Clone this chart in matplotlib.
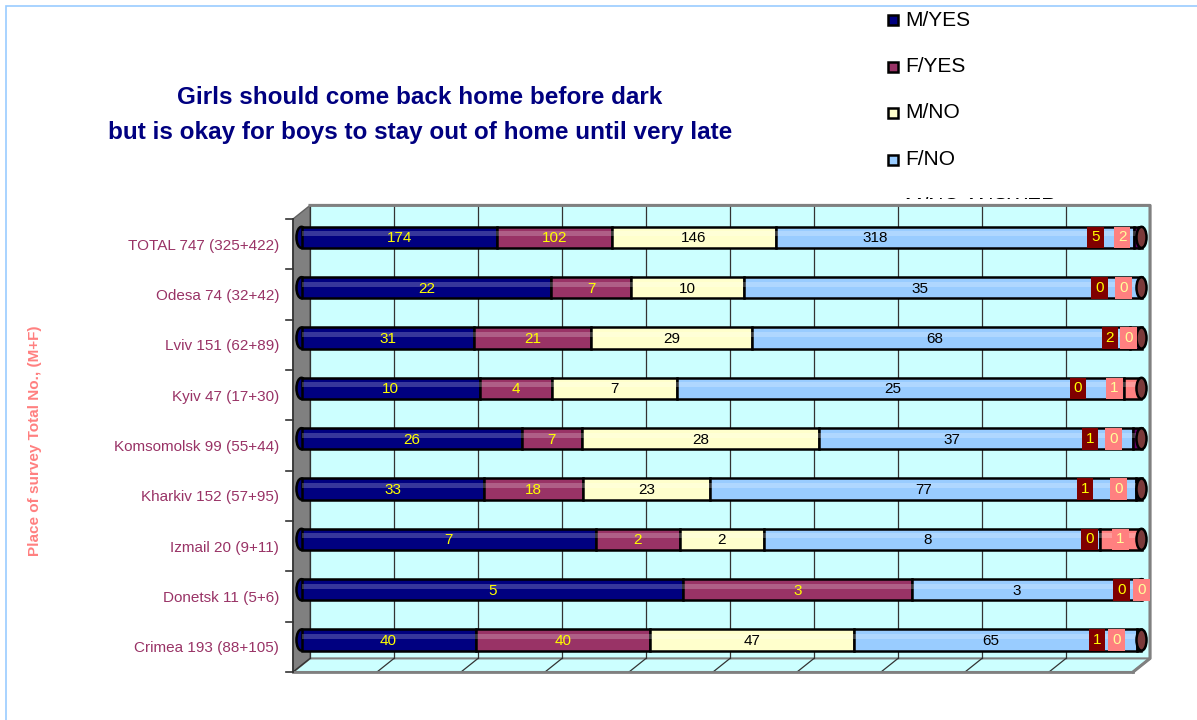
import matplotlib
matplotlib.use("Agg")
import matplotlib.pyplot as plt
from matplotlib.patches import Rectangle, Polygon, Ellipse
from matplotlib.transforms import Bbox

plt.rcParams['font.family'] = ['Liberation Sans', 'DejaVu Sans']

# data, bottom row first
places = ["Crimea 193 (88+105)", "Donetsk 11 (5+6)", "Izmail 20 (9+11)",
          "Kharkiv 152 (57+95)", "Komsomolsk 99 (55+44)", "Kyiv 47 (17+30)",
          "Lviv 151 (62+89)", "Odesa 74 (32+42)", "TOTAL 747 (325+422)"]
m_yes = [40, 5, 7, 33, 26, 10, 31, 22, 174]
f_yes = [40, 3, 2, 18, 7, 4, 21, 7, 102]
m_no = [47, 0, 2, 23, 28, 7, 29, 10, 146]
f_no = [65, 3, 8, 77, 37, 25, 68, 35, 318]
m_na = [1, 0, 0, 1, 1, 0, 2, 0, 5]
f_na = [0, 0, 1, 0, 0, 1, 0, 0, 2]
series_names = ["M/YES", "F/YES", "M/NO", "F/NO", "M/NO ANSWER", "F/NO ANSWER"]

colors = ["#000080", "#993366", "#FFFFCC", "#99CCFF", "#660066", "#FF8080"]
txt_colors = ["#FFFF00", "#FFFF00", "black", "black", "#FFFF00", "#FFFF99"]
# label shifts (pixels) as placed in the original
shift_fno = [-5, -10, -4, 0, -24, -7, -6, -23, -80]
shift_na_m = [-42, -20, -10, -54, -47, -46, -26, -42, -41]
shift_na_f = [-25, 0, 0, -23, -28, -18, -13, -18, -18]

W, H = 1197, 720
fig = plt.figure(figsize=(W / 100, H / 100), dpi=100)

# figure border (light blue)
fig.add_artist(Rectangle((6 / W, -0.1), 1.2, 1.1 - 6 / H, transform=fig.transFigure,
                         fill=False, edgecolor="#99CCFF", lw=1.2))

# legend, cut off at its bottom like the original
leg_clip = Bbox.from_extents(0, H - 199, W, H)
for i, name in enumerate(series_names):
    yy = 1 - (20 + i * 46.5) / H
    p = fig.add_artist(Rectangle((888 / W, yy - 5 / H), 10 / W, 10 / H, transform=fig.transFigure,
                                 facecolor=colors[i], edgecolor="black", lw=1.8, zorder=-2))
    p.set_clip_box(leg_clip)
    t = fig.text(905 / W, yy, name, fontsize=15, va="center", ha="left", zorder=-2)
    t.set_clip_box(leg_clip)
    t.set_clip_on(True)

# title
fig.text(420 / W, 1 - 97 / H, "Girls should come back home before dark",
         fontsize=17.5, fontweight="bold", color="#000080", ha="center", va="center")
fig.text(420 / W, 1 - 132 / H, "but is okay for boys to stay out of home until very late",
         fontsize=17.5, fontweight="bold", color="#000080", ha="center", va="center")

fig.text(35 / W, 1 - 441 / H, "Place of survey Total No., (M+F)", rotation=90,
         fontsize=11, fontweight="bold", color="#FF8080", ha="center", va="center")

ax = fig.add_axes([293 / W, 1 - 672 / H, 840 / W, 453 / H])
ax.set_xlim(0, 1)
ax.set_ylim(-0.5, len(places) - 0.5)
ax.patch.set_visible(False)
for s in ax.spines.values():
    s.set_visible(False)
ax.set_xticks([])
ax.set_yticks(range(len(places)))
ax.set_yticklabels(places, fontsize=11, color="#993366")
ax.tick_params(axis="y", length=0, pad=10)

n = len(places)
dx, dy = 17 / 840, 0.27
top = n - 0.5
bot = -0.5

# walls and floor
ax.add_patch(Polygon([(dx, bot + dy), (1 + dx, bot + dy), (1 + dx, top + dy), (dx, top + dy)],
                     closed=True, facecolor="#CCFFFF", edgecolor="none", zorder=0, clip_on=False))
ax.add_patch(Polygon([(0, bot), (1, bot), (1 + dx, bot + dy), (dx, bot + dy)],
                     closed=True, facecolor="#CCFFFF", edgecolor="#808080", lw=1.5, zorder=0,
                     clip_on=False))
ax.add_patch(Polygon([(0, bot), (dx, bot + dy), (dx, top + dy), (0, top)],
                     closed=True, facecolor="#808080", edgecolor="#606060", lw=1, zorder=0,
                     clip_on=False))
for k in range(11):
    gx = k / 10
    ax.plot([gx + dx, gx + dx], [bot + dy, top + dy], color="#333333", lw=0.9, zorder=0.5,
            clip_on=False)
    ax.plot([gx, gx + dx], [bot, bot + dy], color="#333333", lw=0.9, zorder=0.5, clip_on=False)
ax.plot([dx, 1 + dx, 1 + dx, 1], [top + dy, top + dy, bot + dy, bot], color="#808080", lw=2.2,
        zorder=0.6, clip_on=False)
ax.plot([0, 1], [bot, bot], color="#808080", lw=2, zorder=0.6, clip_on=False)
ax.plot([0, 0], [bot, top], color="#333333", lw=1.2, zorder=0.7, clip_on=False)
for b in range(n + 1):
    ax.plot([-7 / 840, 0], [b - 0.5, b - 0.5], color="#333333", lw=1.2, clip_on=False)

# bars (cylinders at mid depth)
series = [m_yes, f_yes, m_no, f_no, m_na, f_na]
bh = 0.42
for r in range(n):
    total = sum(s[r] for s in series)
    yc = r + dy / 2
    x0 = dx / 2
    ax.add_patch(Ellipse((x0, yc), 0.012, bh, facecolor=colors[0], edgecolor="black",
                         lw=1.8, zorder=2, clip_on=False))
    left = x0
    for i, s in enumerate(series):
        w = s[r] / total
        if w > 0:
            ax.barh(yc, w, height=bh, left=left, color=colors[i], edgecolor="black",
                    lw=1.8, zorder=3, clip_on=False)
            ax.barh(yc + 0.07, w, height=0.1, left=left, color="white", alpha=0.22,
                    lw=0, zorder=3.5, clip_on=False)
        cx = left + w / 2
        if i < 4:
            if s[r] > 0:
                sh = shift_fno[r] if i == 3 else 0
                ax.annotate(str(s[r]), xy=(cx, yc - 0.02), xytext=(sh * 0.72, 0),
                            textcoords="offset points", fontsize=11, color=txt_colors[i],
                            ha="center", va="center", zorder=5, annotation_clip=False)
        else:
            sh = shift_na_m[r] if i == 4 else shift_na_f[r]
            box = "#800000" if i == 4 else "#FF8080"
            ax.annotate(str(s[r]), xy=(cx, yc), xytext=(sh * 0.72, 0),
                        textcoords="offset points", fontsize=11, color=txt_colors[i],
                        ha="center", va="center", zorder=6, annotation_clip=False,
                        bbox=dict(boxstyle="square,pad=0.25", facecolor=box, edgecolor="none"))
        left += w
    ax.add_patch(Ellipse((left, yc), 0.012, bh, facecolor="#7a3a3a", edgecolor="black",
                         lw=1.8, zorder=4, clip_on=False))

fig.savefig("out.png", dpi=100)
